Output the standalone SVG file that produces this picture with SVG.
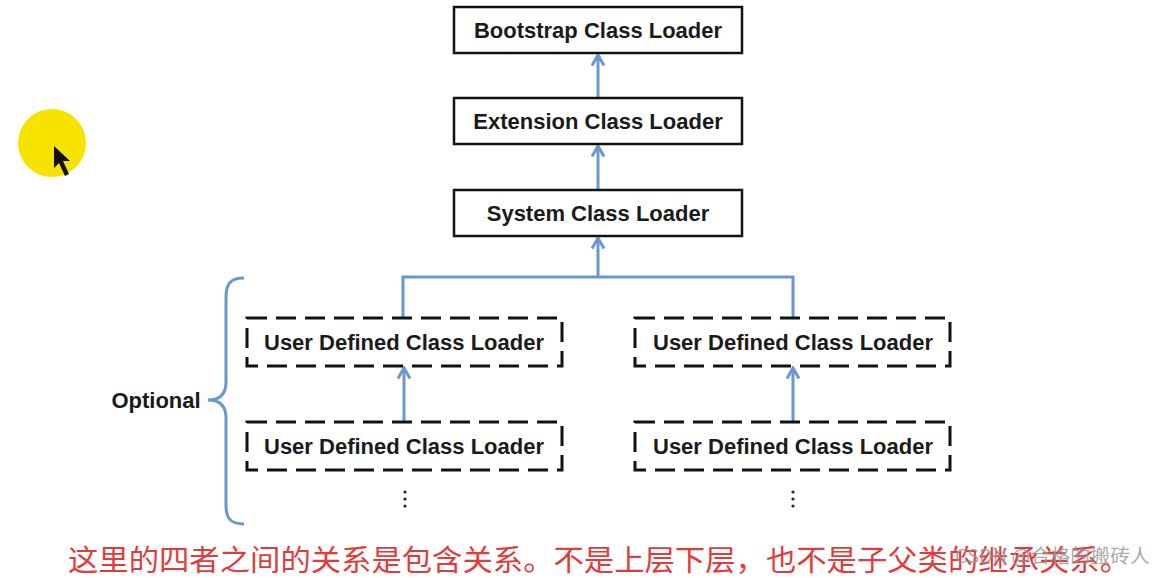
<svg xmlns="http://www.w3.org/2000/svg" width="1164" height="578" viewBox="0 0 1164 578">
<style>
.box{fill:#fff;stroke:#111;stroke-width:2.5}
.dbox{fill:#fff;stroke:#111;stroke-width:3;stroke-dasharray:20 9}
.lbl{font-family:"Liberation Sans",Arial,sans-serif;font-weight:bold;font-size:22px;fill:#1a1a1a;text-anchor:middle}
.conn{fill:none;stroke:#6a98cc;stroke-width:3}
</style>
<defs>
<marker id="ah" viewBox="0 0 10 10" refX="8" refY="5" markerWidth="5" markerHeight="5" orient="auto" markerUnits="strokeWidth">
<path d="M1,1 L8,5 L1,9" fill="none" stroke="#6a98cc" stroke-width="2"/>
</marker>
</defs>
<rect width="1164" height="578" fill="#fff"/>
<circle cx="52" cy="143" r="34" fill="#f7e300"/>
<path d="M54,146 L54,168 L59,163 L65,176 L69,174 L63,161 L70,161 Z" fill="#111"/>
<g id="connectors">
<path class="conn" d="M598,98 V55" marker-end="url(#ah)"/>
<path class="conn" d="M598,190 V146" marker-end="url(#ah)"/>
<path class="conn" d="M403,318 V277 H793 V318 M598,277 V238" marker-end="url(#ah)"/>
<path class="conn" d="M404,422 V368" marker-end="url(#ah)"/>
<path class="conn" d="M793,422 V368" marker-end="url(#ah)"/>
</g>
<g id="bootstrap"><rect class="box" x="454" y="7" width="288" height="46"/><text class="lbl" x="598" y="38">Bootstrap Class Loader</text></g>
<g id="extension"><rect class="box" x="454" y="98" width="288" height="46"/><text class="lbl" x="598" y="129">Extension Class Loader</text></g>
<g id="system"><rect class="box" x="454" y="190" width="288" height="46"/><text class="lbl" x="598" y="221">System Class Loader</text></g>
<g id="user1"><rect class="dbox" x="247" y="318" width="315" height="48"/><text class="lbl" x="404" y="350">User Defined Class Loader</text></g>
<g id="user2"><rect class="dbox" x="247" y="422" width="315" height="48"/><text class="lbl" x="404" y="454">User Defined Class Loader</text></g>
<g id="user3"><rect class="dbox" x="635" y="318" width="315" height="48"/><text class="lbl" x="793" y="350">User Defined Class Loader</text></g>
<g id="user4"><rect class="dbox" x="635" y="422" width="315" height="48"/><text class="lbl" x="793" y="454">User Defined Class Loader</text></g>
<g id="dots" fill="#222">
<circle cx="405" cy="492" r="1.6"/><circle cx="405" cy="499" r="1.6"/><circle cx="405" cy="506" r="1.6"/>
<circle cx="793" cy="492" r="1.6"/><circle cx="793" cy="499" r="1.6"/><circle cx="793" cy="506" r="1.6"/>
</g>
<g id="optional">
<path d="M244,278 C230,278 226,284 226,298 V382 C226,394 220,400 208,400 C220,400 226,406 226,418 V505 C226,518 230,524 244,524" fill="none" stroke="#6a98cc" stroke-width="3"/>
<text x="156" y="408" font-family="'Liberation Sans',Arial,sans-serif" font-weight="bold" font-size="22" fill="#1a1a1a" text-anchor="middle">Optional</text>
</g>
<text x="68" y="571" font-family="'Noto Sans CJK SC',sans-serif" font-size="29" fill="#e23b3b" textLength="1062" lengthAdjust="spacingAndGlyphs">这里的四者之间的关系是包含关系。不是上层下层，也不是子父类的继承关系。</text>
<text x="955" y="563" font-family="'Noto Sans CJK SC',sans-serif" font-size="19" fill="#9a9a9a" fill-opacity="0.85" textLength="195" lengthAdjust="spacingAndGlyphs">CSDN @合格的搬砖人</text>
</svg>
